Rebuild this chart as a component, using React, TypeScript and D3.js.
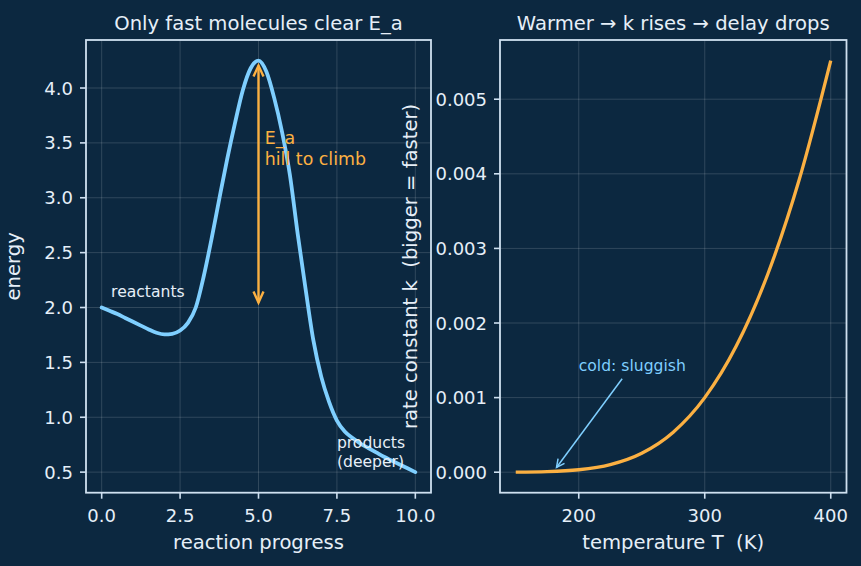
import React from "react";
import * as d3 from "d3";

// left panel: energy profile along the reaction coordinate
const progress = [
  0, 0.25, 0.5, 0.75, 1, 1.25, 1.5, 1.75, 2, 2.25, 2.5, 2.75, 3, 3.25, 3.5, 3.75, 4, 4.25, 4.5, 4.75, 5,
  5.25, 5.5, 5.75, 6, 6.25, 6.5, 6.75, 7, 7.25, 7.5, 7.75, 8, 8.25, 8.5, 8.75, 9, 9.25, 9.5, 9.75, 10,
];
const energy = [
  2.0, 1.97, 1.94, 1.905, 1.87, 1.835, 1.8, 1.77, 1.755, 1.76, 1.79, 1.86, 2.0, 2.28, 2.62, 2.99, 3.35, 3.68, 3.98, 4.18, 4.25,
  4.15, 3.91, 3.6, 3.21, 2.67, 2.17, 1.7, 1.37, 1.14, 0.97, 0.87, 0.81, 0.76, 0.72, 0.68, 0.64, 0.605, 0.57, 0.535, 0.5,
];
const progressTicks = [0, 2.5, 5, 7.5, 10];
const energyTicks = [0.5, 1.0, 1.5, 2.0, 2.5, 3.0, 3.5, 4.0];

// right panel: rate constant vs temperature
const temps = [150, 175, 200, 225, 250, 275, 300, 325, 350, 375, 400];
const rateK = [0.00000108, 0.00000759, 0.0000328, 0.0001025, 0.000255, 0.000537, 0.001, 0.001691, 0.002654, 0.003923, 0.005518];
const tempTicks = [200, 300, 400];
const rateTicks = [0, 0.001, 0.002, 0.003, 0.004, 0.005];

// annotation anchors (data coords)
const eaArrow = { x: 5, from: 2.0, to: 4.25 };
const eaLabel = { x: 5.2, y: 3.3 };
const reactantsLabel = { x: 0.3, y: 2.1 };
const productsLabel = { x: 7.5, y: 0.55 };
const coldPoint = { T: 180, k: 0.00001 };
const coldLabel = { T: 200, k: 0.00136 };

const W = 861;
const H = 566;
const bg = "#0c2840";
const fg = "#e6eff8";
const spine = "#cfe0f0";
const blue = "#7fcfff";
const orange = "#fbb042";
const font = "DejaVu Sans";
const tickSize = 18;
const labelSize = 19.6;

const top = 40;
const bottom = 492.7;
const leftBox = { x0: 86, x1: 431 };
const rightBox = { x0: 500, x1: 846.5 };

function padded(ext: number[], frac = 0.05) {
  const span = ext[1] - ext[0];
  return [ext[0] - span * frac, ext[1] + span * frac];
}

function Chevron({ tipX, tipY, dx, dy, color, len, half, width }: any) {
  // dx, dy = unit vector pointing along the arrow direction (into the tip)
  const bx = tipX - dx * len;
  const by = tipY - dy * len;
  const px = -dy * half;
  const py = dx * half;
  return (
    <polyline
      points={`${bx + px},${by + py} ${tipX},${tipY} ${bx - px},${by - py}`}
      fill="none"
      stroke={color}
      strokeWidth={width}
      strokeLinejoin="miter"
    />
  );
}

function Axes({ box, x, y, xTicks, yTicks, xFmt, yFmt, title, xLabel, yLabel, yLabelX }: any) {
  return (
    <g>
      {/* grid */}
      {xTicks.map((t: number) => (
        <line key={"gx" + t} x1={x(t)} x2={x(t)} y1={top} y2={bottom} stroke="#ffffff" strokeOpacity={0.15} strokeWidth={1} />
      ))}
      {yTicks.map((t: number) => (
        <line key={"gy" + t} x1={box.x0} x2={box.x1} y1={y(t)} y2={y(t)} stroke="#ffffff" strokeOpacity={0.15} strokeWidth={1} />
      ))}
      {/* ticks */}
      {xTicks.map((t: number) => (
        <g key={"tx" + t}>
          <line x1={x(t)} x2={x(t)} y1={bottom} y2={bottom + 6} stroke={spine} strokeWidth={1.6} />
          <text x={x(t)} y={522} textAnchor="middle" fontSize={tickSize} fill={fg} fontFamily={font}>
            {xFmt(t)}
          </text>
        </g>
      ))}
      {yTicks.map((t: number) => (
        <g key={"ty" + t}>
          <line x1={box.x0 - 6} x2={box.x0} y1={y(t)} y2={y(t)} stroke={spine} strokeWidth={1.6} />
          <text x={box.x0 - 13} y={y(t) + 6.5} textAnchor="end" fontSize={tickSize} fill={fg} fontFamily={font}>
            {yFmt(t)}
          </text>
        </g>
      ))}
      <rect x={box.x0} y={top} width={box.x1 - box.x0} height={bottom - top} fill="none" stroke={spine} strokeWidth={1.8} />
      <text x={(box.x0 + box.x1) / 2} y={30} textAnchor="middle" fontSize={labelSize} fill={fg} fontFamily={font}>
        {title}
      </text>
      <text x={(box.x0 + box.x1) / 2} y={549} textAnchor="middle" fontSize={labelSize} fill={fg} fontFamily={font} style={{ whiteSpace: "pre" }}>
        {xLabel}
      </text>
      <text
        transform={`translate(${yLabelX}, ${(top + bottom) / 2}) rotate(-90)`}
        textAnchor="middle"
        fontSize={labelSize}
        fill={fg}
        fontFamily={font}
        style={{ whiteSpace: "pre" }}
      >
        {yLabel}
      </text>
    </g>
  );
}

export default function App() {
  const xL = d3.scaleLinear().domain(padded([0, 10])).range([leftBox.x0, leftBox.x1]);
  const yL = d3.scaleLinear().domain(padded(d3.extent(energy) as number[])).range([bottom, top]);
  const xR = d3.scaleLinear().domain(padded(d3.extent(temps) as number[])).range([rightBox.x0, rightBox.x1]);
  const yR = d3.scaleLinear().domain(padded(d3.extent(rateK) as number[])).range([bottom, top]);

  const energyLine = d3
    .line<number>()
    .x((d, i) => xL(progress[i]))
    .y((d) => yL(d))
    .curve(d3.curveMonotoneX);

  const rateLine = d3
    .line<number>()
    .x((d, i) => xR(temps[i]))
    .y((d) => yR(d))
    .curve(d3.curveMonotoneX);

  // orange double arrow for E_a
  const shrink = 5;
  const eaX = xL(eaArrow.x);
  const eaBottom = yL(eaArrow.from) - shrink;
  const eaTop = yL(eaArrow.to) + shrink;

  // cold annotation arrow: from text box toward the point
  const coldTx = xR(coldLabel.T);
  const coldTy = yR(coldLabel.k);
  const cx = coldTx + 53;
  const cy = coldTy - 5;
  const px = xR(coldPoint.T);
  const py = yR(coldPoint.k);
  const dxA = px - cx;
  const dyA = py - cy;
  const lenA = Math.sqrt(dxA * dxA + dyA * dyA);
  const ux = dxA / lenA;
  const uy = dyA / lenA;
  const startT = (coldTy + 8 - cy) / uy;
  const sx = cx + ux * startT;
  const sy = cy + uy * startT;
  const ex = px - ux * 5;
  const ey = py - uy * 5;

  return (
    <svg width={W} height={H} style={{ display: "block", position: "absolute", left: 0, top: 0 }}>
      <rect x={0} y={0} width={W} height={H} fill={bg} />

      <Axes
        box={leftBox}
        x={xL}
        y={yL}
        xTicks={progressTicks}
        yTicks={energyTicks}
        xFmt={d3.format(".1f")}
        yFmt={d3.format(".1f")}
        title="Only fast molecules clear E_a"
        xLabel="reaction progress"
        yLabel="energy"
        yLabelX={20}
      />
      <Axes
        box={rightBox}
        x={xR}
        y={yR}
        xTicks={tempTicks}
        yTicks={rateTicks}
        xFmt={d3.format("d")}
        yFmt={d3.format(".3f")}
        title="Warmer → k rises → delay drops"
        xLabel="temperature T  (K)"
        yLabel="rate constant k  (bigger = faster)"
        yLabelX={417}
      />

      {/* left panel marks */}
      <path d={energyLine(energy) || ""} fill="none" stroke={blue} strokeWidth={3.8} strokeLinecap="round" />
      <line x1={eaX} x2={eaX} y1={eaBottom} y2={eaTop} stroke={orange} strokeWidth={2.4} />
      <Chevron tipX={eaX} tipY={eaTop} dx={0} dy={-1} color={orange} len={11} half={5} width={2.4} />
      <Chevron tipX={eaX} tipY={eaBottom} dx={0} dy={1} color={orange} len={11} half={5} width={2.4} />
      <text x={xL(eaLabel.x)} y={yL(eaLabel.y)} fontSize={17.4} fill={orange} fontFamily={font}>
        <tspan x={xL(eaLabel.x)} dy={-20.9}>E_a</tspan>
        <tspan x={xL(eaLabel.x)} dy={20.9}>hill to climb</tspan>
      </text>
      <text x={xL(reactantsLabel.x)} y={yL(reactantsLabel.y)} fontSize={15.6} fill={fg} fontFamily={font}>
        reactants
      </text>
      <text x={xL(productsLabel.x)} y={yL(productsLabel.y)} fontSize={15.6} fill={fg} fontFamily={font}>
        <tspan x={xL(productsLabel.x)} dy={-18.7}>products</tspan>
        <tspan x={xL(productsLabel.x)} dy={18.7}>(deeper)</tspan>
      </text>

      {/* right panel marks */}
      <path d={rateLine(rateK) || ""} fill="none" stroke={orange} strokeWidth={3.3} strokeLinecap="butt" />
      <line x1={sx} y1={sy} x2={ex} y2={ey} stroke={blue} strokeWidth={1.5} />
      <Chevron tipX={ex} tipY={ey} dx={ux} dy={uy} color={blue} len={8} half={4} width={1.5} />
      <text x={coldTx} y={coldTy} fontSize={15.6} fill={blue} fontFamily={font}>
        cold: sluggish
      </text>
    </svg>
  );
}
